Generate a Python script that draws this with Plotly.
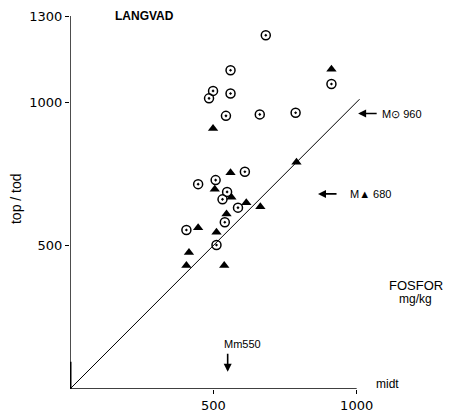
import plotly.graph_objects as go

# Phosphorus (mg/kg): midt (x) against top/tod (y)
top_midt = [683, 560, 499, 485, 560, 544, 662, 787, 912, 610, 447, 508, 548, 532, 586, 540, 406, 511]
top_val = [1233, 1111, 1039, 1013, 1030, 952, 957, 963, 1063, 757, 714, 728, 687, 661, 632, 581, 554, 502]

tod_midt = [499, 912, 790, 560, 505, 563, 615, 664, 546, 447, 511, 415, 406, 538]
tod_val = [908, 1114, 790, 754, 696, 668, 649, 635, 610, 562, 546, 476, 430, 430]

# 1:1 reference line
diag = [-20, 1010]

# Means marked with arrows
mean_top = 960
mean_tod = 680
mean_midt = 550

x_ticks = [500, 1000]
y_ticks = [500, 1000, 1300]

X_MAX = 1050
FONT = "Liberation Sans, Arial, sans-serif"
NUM_FONT = "DejaVu Sans, sans-serif"


def px(v):
    """x position in paper units for a value on the midt axis (may lie beyond the range)."""
    return v / X_MAX


fig = go.Figure()

fig.add_trace(go.Scatter(
    x=diag, y=diag, mode="lines",
    line=dict(color="black", width=1), showlegend=False, hoverinfo="skip"))

fig.add_trace(go.Scatter(
    x=top_midt, y=top_val, mode="markers", name="top",
    marker=dict(symbol="circle-open-dot", size=9, color="black",
                line=dict(color="black", width=1.5)),
    showlegend=False, cliponaxis=False))

fig.add_trace(go.Scatter(
    x=tod_midt, y=tod_val, mode="markers", name="tod",
    marker=dict(symbol="triangle-up", size=9, color="black"),
    showlegend=False, cliponaxis=False))

# axis lines
fig.add_shape(type="line", x0=0, x1=x_ticks[-1], y0=0, y1=0,
              line=dict(color="black", width=1.6), layer="above")
fig.add_shape(type="line", x0=0, x1=0, y0=0, y1=y_ticks[-1],
              line=dict(color="black", width=1.4), layer="above")
fig.add_shape(type="line", x0=0, x1=0, y0=0, y1=95,
              line=dict(color="black", width=3), layer="above")

ann = []
ann.append(dict(x=150, y=1300, xref="x", yref="y", text="<b>LANGVAD</b>",
                showarrow=False, xanchor="left", yanchor="middle",
                font=dict(size=12, family=FONT, color="black")))
ann.append(dict(x=-0.18, y=665, xref="paper", yref="y", text="top / tod",
                textangle=-90, showarrow=False, xanchor="center", yanchor="middle",
                font=dict(size=14, family=FONT, color="black")))
ann.append(dict(x=px(1206), y=362, xref="paper", yref="y", text="FOSFOR",
                showarrow=False, xanchor="center", yanchor="middle",
                font=dict(size=13, family=FONT, color="black")))
ann.append(dict(x=px(1206), y=314, xref="paper", yref="y", text="mg/kg",
                showarrow=False, xanchor="center", yanchor="middle",
                font=dict(size=12, family=FONT, color="black")))
ann.append(dict(x=px(1060), y=16, xref="paper", yref="y", text="midt",
                showarrow=False, xanchor="left", yanchor="middle",
                font=dict(size=12, family=FONT, color="black")))

# mean arrows
ann.append(dict(x=mean_midt, y=60, ax=mean_midt, ay=128, xref="x", yref="y",
                axref="x", ayref="y", text="", showarrow=True,
                arrowhead=2, arrowsize=1, arrowwidth=1.6, arrowcolor="black"))
ann.append(dict(x=mean_midt - 20, y=158, xref="x", yref="y", text="Mm550",
                showarrow=False, xanchor="left", yanchor="middle",
                font=dict(size=11, family=FONT, color="black")))

ann.append(dict(x=1005, y=mean_top, ax=1075, ay=mean_top, xref="x", yref="y",
                axref="x", ayref="y", text="", showarrow=True,
                arrowhead=2, arrowsize=1, arrowwidth=1.6, arrowcolor="black"))
ann.append(dict(x=px(1080), y=mean_top, xref="paper", yref="y", text="M\u2299 960",
                showarrow=False, xanchor="left", yanchor="middle",
                font=dict(size=11, family=FONT, color="black")))

ann.append(dict(x=865, y=mean_tod, ax=935, ay=mean_tod, xref="x", yref="y",
                axref="x", ayref="y", text="", showarrow=True,
                arrowhead=2, arrowsize=1, arrowwidth=1.6, arrowcolor="black"))
ann.append(dict(x=970, y=mean_tod, xref="x", yref="y", text="M\u25b2 680",
                showarrow=False, xanchor="left", yanchor="middle",
                font=dict(size=11, family=FONT, color="black")))

fig.update_layout(
    width=461, height=413,
    margin=dict(l=70, r=90, t=16, b=24, pad=0, autoexpand=False),
    paper_bgcolor="white", plot_bgcolor="white",
    font=dict(color="black"),
    annotations=ann,
    xaxis=dict(range=[0, X_MAX], tickvals=x_ticks, ticktext=[str(v) for v in x_ticks],
               ticks="outside", ticklen=4, tickwidth=1.2, tickcolor="black",
               showline=False, showgrid=False, zeroline=False, automargin=False,
               tickfont=dict(size=13, family=NUM_FONT, color="black")),
    yaxis=dict(range=[0, 1300], tickvals=y_ticks, ticktext=[str(v) for v in y_ticks],
               ticks="outside", ticklen=4, tickwidth=1.2, tickcolor="black",
               showline=False, showgrid=False, zeroline=False, automargin=False,
               tickfont=dict(size=13, family=NUM_FONT, color="black")),
)

fig.write_html("out.html")
